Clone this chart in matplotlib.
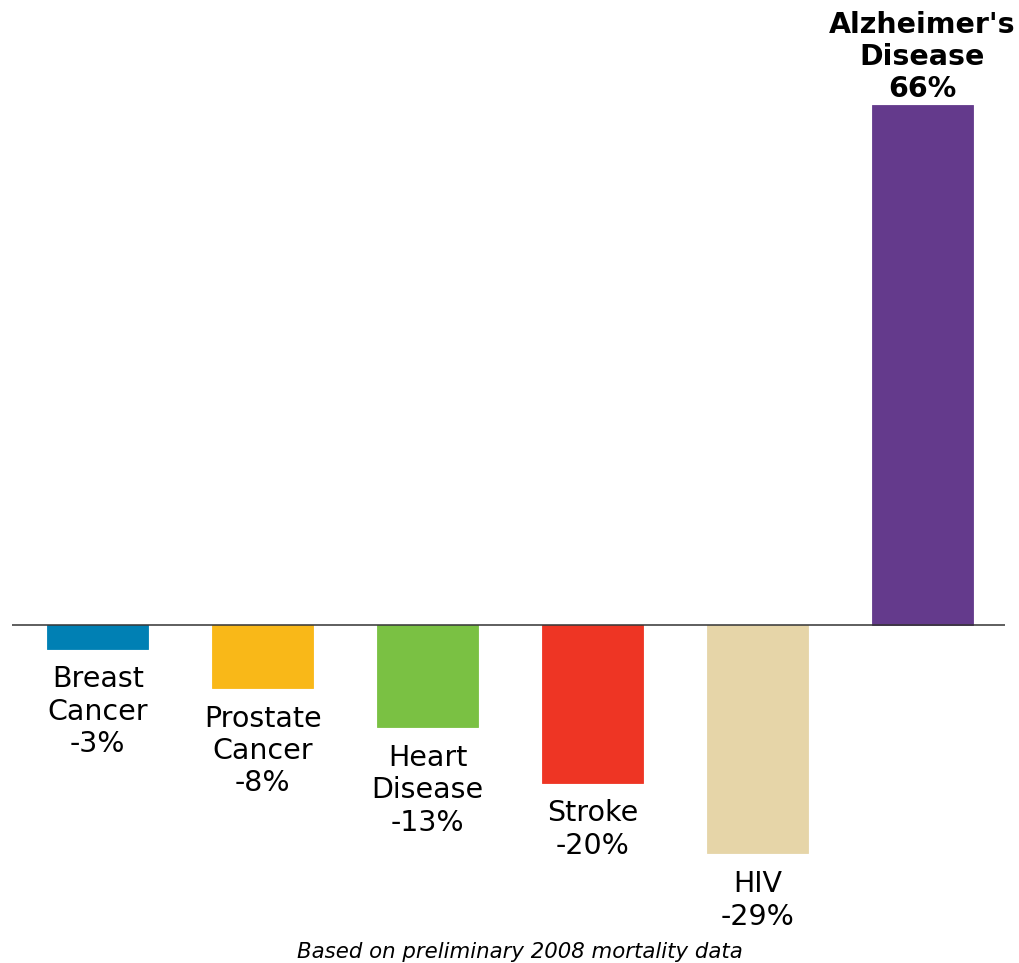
import matplotlib.pyplot as plt

plt.rcParams["font.family"] = ["DejaVu Sans"]

# data
categories = ["Breast\nCancer", "Prostate\nCancer", "Heart\nDisease", "Stroke", "HIV", "Alzheimer's\nDisease"]
changes = [-3, -8, -13, -20, -29, 66]
colors = ["#0080B4", "#F9B818", "#7AC143", "#EE3524", "#E6D5A8", "#643A8C"]
note = "Based on preliminary 2008 mortality data"

W, H = 1019, 963
fig = plt.figure(figsize=(W / 100, H / 100), dpi=100)
ax = fig.add_axes([12 / W, 0, (1005 - 12) / W, 1])

x = list(range(len(categories)))
ax.bar(x, changes, width=0.61, color=colors, edgecolor=colors, linewidth=0.6)
ax.axhline(0, color="#333333", linewidth=1.1)

ax.set_xlim(-0.52, 5.5)
ax.set_ylim(-42.9, 79.3)
ax.axis("off")

# labels under / above each bar
for xi, val, name in zip(x, changes, categories):
    txt = f"{name}\n{val}%"
    if val < 0:
        ax.annotate(txt, (xi, val), xytext=(0, -12), textcoords="offset points",
                    ha="center", va="top", fontsize=20.5, linespacing=1.2)
    else:
        ax.annotate(txt, (xi, val), xytext=(0, 1), textcoords="offset points",
                    ha="center", va="bottom", fontsize=20.5, fontweight="bold",
                    linespacing=1.2)

fig.text(520 / W, 1 - 952 / H, note, ha="center", va="center",
         fontsize=15.3, style="italic")

plt.savefig("out.png", dpi=100)
